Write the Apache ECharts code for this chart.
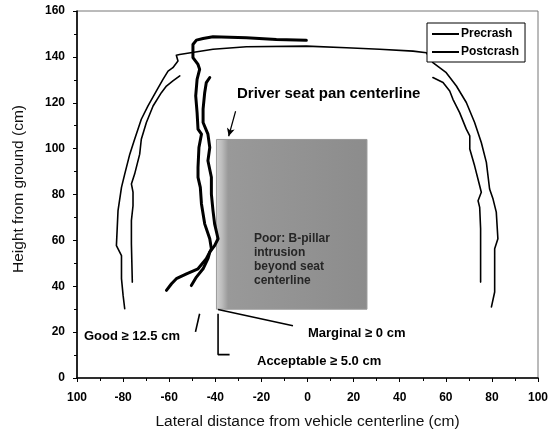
<!DOCTYPE html>
<html>
<head>
<meta charset="utf-8">
<script src="https://cdn.jsdelivr.net/npm/echarts@6/dist/echarts.min.js"></script>
<style>
  html, body { margin: 0; padding: 0; background: #fff; }
  #chart { width: 558px; height: 435px; }
</style>
</head>
<body>
<div id="chart"></div>
<script>
// Tick labels along the lateral axis (left end printed without its sign)
const xTickLabels = ['100', '-80', '-60', '-40', '-20', '0', '20', '40', '60', '80', '100'];

// Precrash profile: exterior outline (left side, roof, right side)
const precrashOuter = [
  [-79.3, 30.2], [-80.0, 36.0], [-80.7, 43.3], [-80.7, 53.4], [-82.9, 57.7], [-82.2, 73.0],
  [-80.7, 83.1], [-79.3, 88.9], [-77.1, 97.6], [-75.0, 104.1], [-72.1, 112.8], [-69.2, 118.6],
  [-65.6, 125.1], [-62.7, 130.2], [-60.5, 133.8], [-58.4, 135.3], [-56.2, 138.2], [-56.9, 140.7],
  [-55.5, 141.0], [-41.0, 143.3], [-26.5, 144.4], [-0.5, 144.7], [16.9, 144.0], [31.3, 143.3],
  [45.8, 142.5], [51.6, 141.8], [54.4, 137.5], [60.2, 133.1], [64.6, 127.3], [68.9, 120.1],
  [72.5, 111.4], [75.4, 102.7], [77.6, 94.0], [79.0, 82.4], [80.5, 78.0], [81.9, 72.3],
  [82.6, 60.7], [81.2, 56.3], [81.2, 46.2], [81.2, 37.5], [79.8, 31.0]
];
// Precrash interior outline, left and right
const precrashInnerLeft = [
  [-76.0, 41.8], [-76.4, 58.5], [-76.4, 68.6], [-75.7, 75.1], [-75.7, 81.0], [-76.4, 84.6],
  [-75.0, 88.9], [-72.8, 97.6], [-72.1, 104.1], [-69.9, 111.4], [-67.0, 118.6], [-63.4, 124.4],
  [-61.2, 127.3], [-58.4, 129.5], [-55.4, 131.7]
];
const precrashInnerRight = [
  [54.4, 131.0], [58.8, 128.8], [61.7, 125.1], [63.1, 121.5], [66.0, 115.7], [68.9, 108.5],
  [70.4, 105.6], [70.4, 99.8], [72.5, 92.5], [74.7, 83.8], [75.4, 81.0], [74.0, 77.3],
  [74.7, 74.4], [75.1, 65.0], [75.1, 53.4], [75.1, 41.8]
];
// Postcrash (struck side) exterior and interior B-pillar outlines
const postcrashOuter = [
  [-61.2, 38.2], [-59.0, 41.1], [-56.9, 43.3], [-52.5, 45.4], [-47.5, 47.6], [-43.9, 52.0],
  [-41.7, 56.3], [-42.4, 60.7], [-44.6, 67.2], [-46.0, 75.9], [-46.5, 83.1], [-47.5, 87.5],
  [-47.5, 91.8], [-47.1, 100.5], [-46.0, 106.3], [-47.5, 108.5], [-47.9, 115.7], [-48.5, 123.0],
  [-47.9, 130.2], [-46.8, 134.6], [-47.5, 136.7], [-49.7, 139.7], [-49.7, 145.4], [-48.2, 147.3],
  [-45.3, 148.0], [-41.0, 148.8], [-26.5, 148.3], [-13.5, 147.6], [-0.5, 147.2]
];
const postcrashInner = [
  [-50.4, 40.3], [-48.2, 44.0], [-45.3, 47.6], [-43.2, 52.0], [-42.4, 54.9], [-40.3, 57.7],
  [-38.8, 60.7], [-40.3, 67.2], [-41.0, 73.0], [-41.7, 80.2], [-41.7, 87.5], [-43.2, 94.7],
  [-42.4, 100.5], [-43.2, 106.3], [-45.3, 111.4], [-45.3, 117.2], [-44.6, 124.4], [-43.9, 128.8],
  [-42.4, 131.0]
];

// Rating zone ("Poor") beyond the seat centerline: [xMin, yMax], [xMax, yMin]
const poorZone = [[-39.5, 104], [25.8, 30]];
// Leader lines for the rating labels
const goodLeader = [[-46.8, 28.0], [-48.6, 20.1]];
const acceptableLeader = [[-38.8, 28.0], [-38.8, 10.2], [-33.8, 10.2]];
const marginalLeader = [[-38.8, 29.9], [-6.3, 22.8]];
// Arrow pointing at the seat pan centerline
const seatArrow = [[-31.2, 116.3], [-34.2, 105.4]];

const FONT = '"Liberation Sans", Arial, Helvetica, sans-serif';

function profile(name, data, width) {
  return {
    name: name, type: 'line', data: data, showSymbol: false, symbol: 'none',
    smooth: false, silent: true, z: 3,
    itemStyle: { color: '#000' },
    lineStyle: { color: '#000', width: width, join: 'round', cap: 'round' }
  };
}
function leader(data) {
  return {
    type: 'line', data: data, showSymbol: false, symbol: 'none', silent: true, z: 3,
    itemStyle: { color: '#000' },
    lineStyle: { color: '#000', width: 1.6 }
  };
}

const chart = echarts.init(document.getElementById('chart'), null, { renderer: 'canvas' });

const zoneSeries = {
  type: 'line', data: [], silent: true, z: 1,
  markArea: {
    silent: true,
    itemStyle: {
      color: {
        type: 'linear', x: 0, y: 0, x2: 1, y2: 0,
        colorStops: [
          { offset: 0, color: '#d2d2d2' },
          { offset: 0.04, color: '#bcbcbc' },
          { offset: 0.08, color: '#999999' },
          { offset: 1, color: '#8c8c8c' }
        ]
      },
      borderColor: '#9a9a9a', borderWidth: 1
    },
    label: {
      show: true, position: 'insideTopLeft', offset: [33, 88],
      formatter: 'Poor: B-pillar\nintrusion\nbeyond seat\ncenterline',
      color: '#262626', fontFamily: FONT, fontWeight: 'bold', fontSize: 12, lineHeight: 14, align: 'left'
    },
    data: [[{ coord: poorZone[0] }, { coord: poorZone[1] }]]
  },
  markLine: {
    silent: true, symbol: ['none', 'arrow'], symbolSize: [6, 8],
    lineStyle: { color: '#000', width: 1.2, type: 'solid' },
    label: { show: false },
    data: [[{ coord: seatArrow[0] }, { coord: seatArrow[1] }]]
  }
};

const option = {
  animation: false,
  backgroundColor: '#fff',
  grid: {
    left: 77, right: 20, top: 11, bottom: 55, show: true,
    borderColor: '#777', borderWidth: 1, backgroundColor: 'transparent'
  },
  legend: {
    data: ['Precrash', 'Postcrash'],
    orient: 'vertical', left: 427, top: 23,
    backgroundColor: '#fff', borderColor: '#000', borderWidth: 1,
    padding: [5, 6, 4, 5], itemGap: 6, itemWidth: 27, itemHeight: 2, icon: 'rect',
    textStyle: { fontFamily: FONT, fontWeight: 'bold', fontSize: 12, color: '#000', padding: [0, 0, 0, -3] },
    z: 10
  },
  xAxis: {
    type: 'value', min: -100, max: 100, interval: 20,
    name: 'Lateral distance from vehicle centerline (cm)', nameLocation: 'middle', nameGap: 36,
    nameTextStyle: { fontFamily: FONT, fontSize: 15.5, color: '#111' },
    axisLine: { show: true, onZero: false, lineStyle: { color: '#000', width: 1.6 } },
    axisTick: { show: true, inside: false, length: 4, lineStyle: { color: '#000', width: 1 } },
    minorTick: { show: true, splitNumber: 2, length: 3, lineStyle: { color: '#000', width: 1 } },
    splitLine: { show: false },
    axisLabel: {
      margin: 14, fontFamily: FONT, fontWeight: 'bold', fontSize: 12, color: '#000',
      formatter: function (v) { return xTickLabels[Math.round((v + 100) / 20)]; }
    }
  },
  yAxis: {
    type: 'value', min: 0, max: 160, interval: 20,
    axisLine: { show: true, onZero: false, lineStyle: { color: '#000', width: 1.6 } },
    axisTick: { show: true, inside: false, length: 4, lineStyle: { color: '#000', width: 1 } },
    minorTick: { show: true, splitNumber: 2, length: 3, lineStyle: { color: '#000', width: 1 } },
    splitLine: { show: false },
    axisLabel: { margin: 12, fontFamily: FONT, fontWeight: 'bold', fontSize: 12, color: '#000' }
  },
  series: [
    zoneSeries,
    profile('Precrash', precrashOuter, 1.6),
    profile('Precrash', precrashInnerLeft, 1.6),
    profile('Precrash', precrashInnerRight, 1.6),
    profile('Postcrash', postcrashOuter, 3),
    profile('Postcrash', postcrashInner, 3),
    leader(goodLeader),
    leader(acceptableLeader),
    leader(marginalLeader)
  ],
  graphic: [
    {
      type: 'text', x: 19, y: 189, rotation: Math.PI / 2, z: 20,
      style: { text: 'Height from ground (cm)', font: '15.5px ' + FONT, fill: '#111', textAlign: 'center', textVerticalAlign: 'middle' }
    },
    { type: 'text', left: 237, top: 86, z: 20, style: { text: 'Driver seat pan centerline', font: 'bold 15px ' + FONT, fill: '#000' } },
    { type: 'text', left: 84, top: 330, z: 20, style: { text: 'Good ≥ 12.5 cm', font: 'bold 13px ' + FONT, fill: '#000' } },
    { type: 'text', left: 308, top: 327, z: 20, style: { text: 'Marginal ≥ 0 cm', font: 'bold 13px ' + FONT, fill: '#000' } },
    { type: 'text', left: 257, top: 355, z: 20, style: { text: 'Acceptable ≥ 5.0 cm', font: 'bold 13px ' + FONT, fill: '#000' } }
  ]
};

chart.setOption(option);
</script>
</body>
</html>
